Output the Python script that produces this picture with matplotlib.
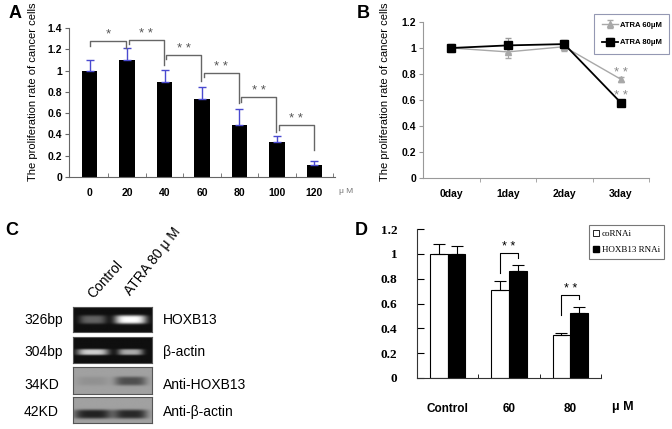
import numpy as np
import matplotlib
matplotlib.use("Agg")
import matplotlib.pyplot as plt
from matplotlib.lines import Line2D
from matplotlib.ticker import FormatStrFormatter

plt.rcParams['font.family'] = ['Liberation Sans', 'DejaVu Sans']

# ---- data -------------------------------------------------------------
# A: dose response
doses = ['0', '20', '40', '60', '80', '100', '120']
rate_a = [1.0, 1.1, 0.89, 0.73, 0.49, 0.33, 0.11]
err_a = [0.10, 0.11, 0.12, 0.12, 0.15, 0.055, 0.045]
sig_a = ['*', '* *', '* *', '* *', '* *', '* *']
bracket_top_a = [1.28, 1.29, 1.15, 0.98, 0.75, 0.49]
bracket_end_a = [1.21, 1.05, 0.90, 0.70, 0.42, 0.25]

# B: time course
days = ['0day', '1day', '2day', '3day']
atra60 = [1.0, 0.97, 1.01, 0.76]
atra60_err = [0.03, 0.05, 0.03, 0.02]
atra80 = [1.0, 1.02, 1.03, 0.58]
atra80_err = [0.02, 0.06, 0.03, 0.01]

# C: band intensities (control, ATRA 80uM)
lanes = ['Control', 'ATRA 80 μ M']
rt_hoxb13 = [0.35, 1.0]
rt_actin = [0.8, 0.65]
wb_hoxb13 = [0.12, 0.65]
wb_actin = [1.0, 0.95]

# D: RNAi
groups = ['Control', '60', '80']
co_rnai = [1.0, 0.71, 0.35]
co_err = [0.08, 0.07, 0.01]
hox_rnai = [1.0, 0.86, 0.52]
hox_err = [0.06, 0.05, 0.05]
bracket_d = [(1, 1.01, 0.845, 0.97), (2, 0.67, 0.51, 0.64)]

# ---- figure -----------------------------------------------------------
W, H = 672, 429
fig = plt.figure(figsize=(W / 100, H / 100), dpi=100)


def add_ax(l, t, r, b):
    return fig.add_axes([l / W, 1 - b / H, (r - l) / W, (b - t) / H])


def ptext(x, y, s, **kw):
    fig.text(x / W, 1 - y / H, s, **kw)


def style_axes(ax, color='#444444'):
    for s in ['top', 'right']:
        ax.spines[s].set_visible(False)
    for s in ['left', 'bottom']:
        ax.spines[s].set_color(color)
        ax.spines[s].set_linewidth(0.8)


# ---- A ---------------------------------------------------------------
axA = add_ax(69, 28, 335, 177)
xa = np.arange(len(doses))
axA.bar(xa, rate_a, width=0.42, color='black',
        yerr=[np.zeros(len(err_a)), err_a],
        error_kw=dict(ecolor='#4a4ad0', elinewidth=1, capsize=3, capthick=1))
axA.set_xlim(-0.55, 6.55)
axA.set_ylim(0, 1.4)
style_axes(axA, '#666666')
axA.set_yticks(np.arange(0, 1.41, 0.2))
axA.yaxis.set_major_formatter(FormatStrFormatter('%g'))
axA.set_xticks(xa)
axA.set_xticklabels(doses)
axA.set_xticks(xa + 0.5, minor=True)
axA.tick_params(axis='x', which='major', length=0, pad=8)
axA.tick_params(axis='x', which='minor', direction='in', length=3, color='#666666')
axA.tick_params(axis='y', length=3, pad=2, color='#666666')
for lab in axA.get_xticklabels() + axA.get_yticklabels():
    lab.set_fontweight('bold')
    lab.set_fontsize(7.5)
for i in range(len(sig_a)):
    xl = i + (0.05 if i > 0 else 0)
    xr = i + 0.98
    top = bracket_top_a[i]
    axA.plot([xl, xl, xr, xr], [top - 0.045, top, top, bracket_end_a[i]],
             color='#666666', lw=1, clip_on=False)
    axA.text((xl + xr) / 2, top + 0.0, sig_a[i], ha='center', va='bottom',
             fontsize=9.5, color='#555555')
ptext(33, 92, 'The proliferation rate of cancer cells', rotation=90,
      ha='center', va='center', fontsize=8)
ptext(15, 14, 'A', fontsize=13, fontweight='bold', ha='center', va='center')
ptext(346, 192, 'μ M', fontsize=6, color='#777777', ha='center', va='center')

# ---- B ---------------------------------------------------------------
axB = add_ax(423, 22, 649, 178)
xb = np.arange(len(days))
axB.errorbar(xb, atra60, yerr=atra60_err, color='#a8a8a8', lw=1, marker='^',
             ms=5, capsize=2, elinewidth=0.8, label='ATRA 60μM')
axB.errorbar(xb, atra80, yerr=atra80_err, color='black', ecolor='#999999',
             lw=1.3, marker='s', ms=6, capsize=2, elinewidth=0.8,
             label='ATRA 80μM')
axB.set_xlim(-0.5, 3.5)
axB.set_ylim(0, 1.2)
style_axes(axB, '#999999')
axB.set_yticks(np.arange(0, 1.21, 0.2))
axB.yaxis.set_major_formatter(FormatStrFormatter('%g'))
axB.set_xticks(xb)
axB.set_xticklabels(days)
axB.set_xticks(xb + 0.5, minor=True)
axB.tick_params(axis='x', which='major', length=0, pad=8)
axB.tick_params(axis='x', which='minor', direction='out', length=3, color='#999999')
axB.tick_params(axis='y', length=3, pad=2, color='#999999')
for lab in axB.get_xticklabels() + axB.get_yticklabels():
    lab.set_fontweight('bold')
    lab.set_fontsize(7.5)
axB.text(3, 0.765, '* *', ha='center', va='bottom', fontsize=9.5, color='#888888')
axB.text(3, 0.585, '* *', ha='center', va='bottom', fontsize=9.5, color='#888888')
legB = axB.legend(loc='upper left', bbox_to_anchor=(594 / W, 1 - 14 / H),
                  bbox_transform=fig.transFigure, frameon=True, fancybox=False,
                  edgecolor='#7a7fa0', prop=dict(size=5.5, weight='bold'),
                  handlelength=2.2, handletextpad=0.2, labelspacing=1.3,
                  borderpad=1.0, borderaxespad=0)
legB.get_frame().set_linewidth(0.8)
ptext(385, 92, 'The proliferation rate of cancer cells', rotation=90,
      ha='center', va='center', fontsize=8)
ptext(363, 13, 'B', fontsize=13, fontweight='bold', ha='center', va='center')

# ---- C ---------------------------------------------------------------
def gel_strip(t, b, inten, dark_bg, band_y, band_w, sig_y):
    ax = add_ax(73, t, 152, b)
    nx, ny = 160, 60
    xs = np.linspace(0, 1, nx)
    ys = np.linspace(0, 1, ny)[:, None]
    img = np.zeros((ny, nx))
    for c, w, v in zip([0.25, 0.73], band_w, inten):
        prof_x = np.exp(-((xs - c) / w) ** 4)
        prof_y = np.exp(-((ys - band_y) / sig_y) ** 4)
        img += v * prof_x * prof_y
    if dark_bg:
        img = 0.06 + 0.94 * np.clip(img, 0, 1)
    else:
        img = 0.63 - 0.5 * np.clip(img, 0, 1)
    ax.imshow(img, cmap='gray', vmin=0, vmax=1, aspect='auto',
              interpolation='bilinear')
    ax.set_xticks([])
    ax.set_yticks([])
    for s in ax.spines.values():
        s.set_color('#555555')
        s.set_linewidth(0.8)
    return ax


gel_strip(307, 332, rt_hoxb13, True, 0.52, [0.17, 0.2], 0.17)
gel_strip(337, 363, rt_actin, True, 0.58, [0.2, 0.16], 0.12)
gel_strip(367, 394, wb_hoxb13, False, 0.52, [0.2, 0.2], 0.17)
gel_strip(397, 423, wb_actin, False, 0.66, [0.24, 0.21], 0.18)

ptext(95, 301, lanes[0], rotation=48, rotation_mode='anchor', ha='left',
      va='bottom', fontsize=10)
ptext(133, 298, lanes[1], rotation=52, rotation_mode='anchor', ha='left',
      va='bottom', fontsize=10)
for y, l, r in [(320, '326bp', 'HOXB13'), (352, '304bp', 'β-actin'),
                (385, '34KD', 'Anti-HOXB13'), (412, '42KD', 'Anti-β-actin')]:
    ptext(24, y, l, fontsize=10, ha='left', va='center')
    ptext(163, y, r, fontsize=10, ha='left', va='center')
ptext(12, 230, 'C', fontsize=13, fontweight='bold', ha='center', va='center')

# ---- D ---------------------------------------------------------------
axD = add_ax(417, 229, 601, 378)
xd = np.arange(len(groups))
bw = 0.29
axD.bar(xd - bw / 2, co_rnai, width=bw, color='white', edgecolor='black',
        linewidth=0.8, yerr=[np.zeros(3), co_err],
        error_kw=dict(ecolor='black', elinewidth=0.8, capsize=4, capthick=0.8))
axD.bar(xd + bw / 2, hox_rnai, width=bw, color='black', edgecolor='black',
        linewidth=0.8, yerr=[np.zeros(3), hox_err],
        error_kw=dict(ecolor='black', elinewidth=0.8, capsize=4, capthick=0.8))
axD.set_xlim(-0.5, 2.5)
axD.set_ylim(0, 1.2)
style_axes(axD, '#333333')
axD.set_yticks(np.arange(0, 1.21, 0.2))
axD.yaxis.set_major_formatter(FormatStrFormatter('%g'))
axD.set_xticks(xd)
axD.set_xticklabels(groups)
axD.set_xticks(xd + 0.5, minor=True)
axD.tick_params(axis='x', which='major', length=0, pad=18)
axD.tick_params(axis='x', which='minor', direction='in', length=3)
axD.tick_params(axis='y', direction='in', length=5, pad=14)
for lab in axD.get_xticklabels():
    lab.set_fontweight('bold')
    lab.set_fontsize(8.5)
for lab in axD.get_yticklabels():
    lab.set_fontweight('bold')
    lab.set_fontsize(9.5)
    lab.set_family('Liberation Serif')
for g, top, lb, rb in bracket_d:
    xl, xr = g - bw / 2, g + bw / 2
    axD.plot([xl, xl, xr, xr], [lb, top, top, rb], color='black', lw=0.8)
    axD.text(g, top + 0.0, '* *', ha='center', va='bottom', fontsize=9)
handles = [Line2D([], [], ls='none', marker='s', ms=4, mfc='white', mec='black', mew=0.6),
           Line2D([], [], ls='none', marker='s', ms=4, mfc='black', mec='black')]
legD = axD.legend(handles, ['coRNAi', 'HOXB13 RNAi'], loc='upper left',
                  bbox_to_anchor=(589 / W, 1 - 225 / H),
                  bbox_transform=fig.transFigure, frameon=True, fancybox=False,
                  edgecolor='#555555', prop=dict(family='Liberation Serif', size=6.5),
                  handlelength=0.6, handletextpad=0.3, labelspacing=0.9,
                  borderpad=0.5, borderaxespad=0)
legD.get_frame().set_linewidth(0.8)
ptext(623, 407, 'μ M', fontsize=9, fontweight='bold', ha='center', va='center')
ptext(361, 230, 'D', fontsize=13, fontweight='bold', ha='center', va='center')

fig.savefig('out.png', dpi=100)
